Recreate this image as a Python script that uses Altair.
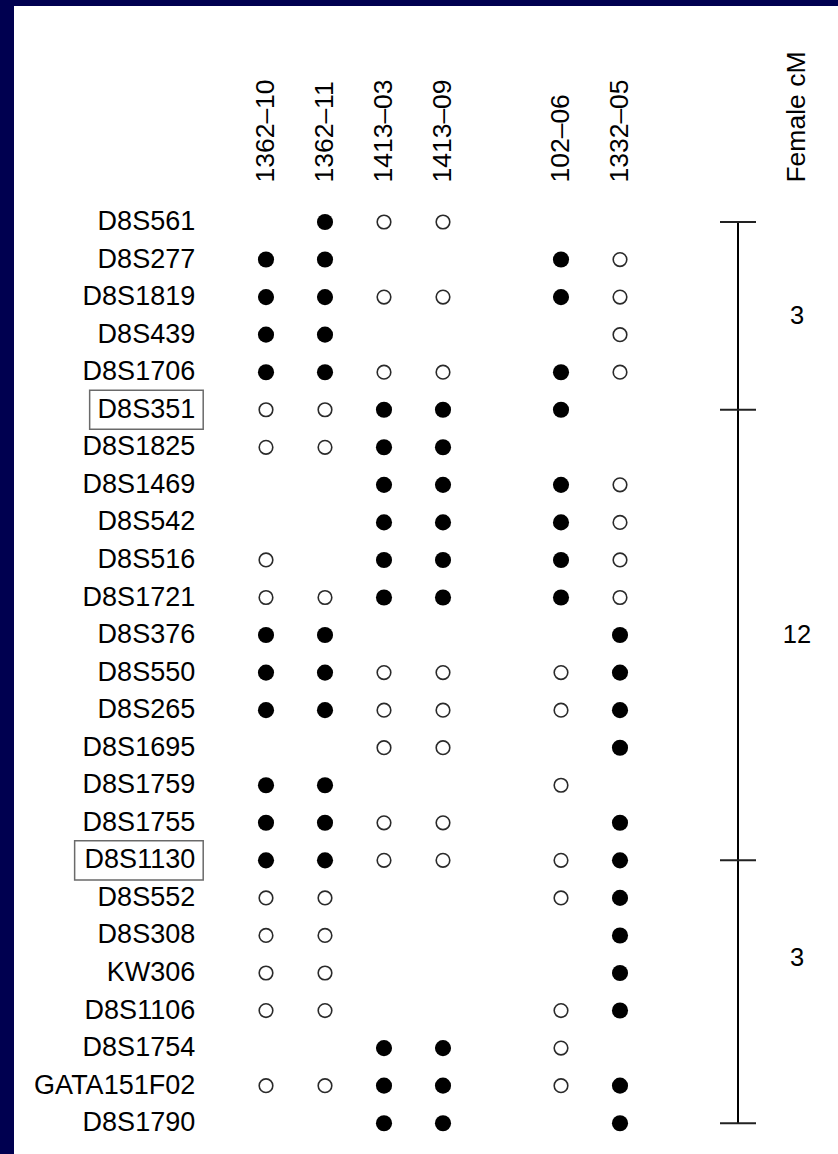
import altair as alt
import pandas as pd

# ---------------- data ----------------
markers = ["D8S561", "D8S277", "D8S1819", "D8S439", "D8S1706", "D8S351",
           "D8S1825", "D8S1469", "D8S542", "D8S516", "D8S1721", "D8S376",
           "D8S550", "D8S265", "D8S1695", "D8S1759", "D8S1755", "D8S1130",
           "D8S552", "D8S308", "KW306", "D8S1106", "D8S1754", "GATA151F02",
           "D8S1790"]
samples = ["1362–10", "1362–11", "1413–03", "1413–09", "102–06", "1332–05"]
# F = filled circle, O = open circle, . = no symbol (one char per sample)
genotypes = [".FOO..", "FF..FO", "FFOOFO", "FF...O", "FFOOFO", "OOFFF.",
             "OOFF..", "..FFFO", "..FFFO", "O.FFFO", "OOFFFO", "FF...F",
             "FFOOOF", "FFOOOF", "..OO.F", "FF..O.", "FFOO.F", "FFOOOF",
             "OO..OF", "OO...F", "OO...F", "OO..OF", "..FFO.", "OOFFOF",
             "..FF.F"]
boxed_markers = ["D8S351", "D8S1130"]
interval_bounds = ["D8S561", "D8S351", "D8S1130", "D8S1790"]
interval_cm = ["3", "12", "3"]
cm_label_rows = [2.5, 11.0, 19.6]
scale_title = "Female cM"

# ---------------- layout (slots/rows) ----------------
FONT = "Liberation Sans"
FS = 27
FS_HEAD = 26.5
FS_CM = 25.5
col_step, row_step = 59.0, 37.55
x0_px, y0_px = 252.0, 216.0      # first column / first row inside the view
W, H = 824, 1148

def sample_slot(i):
    return i if i <= 3 else i + 1

bar_slot = 8
cm_slot = 9
label_slot = -1.2
header_row = -1.05

xs = alt.Scale(domain=[-x0_px / col_step, (W - x0_px) / col_step], nice=False, zero=False)
ys = alt.Scale(domain=[-y0_px / row_step, (H - y0_px) / row_step], nice=False, zero=False, reverse=True)

def X(f):
    return alt.X(f, type="quantitative", scale=xs, axis=None)

def Y(f):
    return alt.Y(f, type="quantitative", scale=ys, axis=None)

# symbol table
rows = []
for r, (m, g) in enumerate(zip(markers, genotypes)):
    for i, s in enumerate(samples):
        if g[i] != ".":
            rows.append({"marker": m, "sample": s, "row": r,
                         "x": sample_slot(i), "state": g[i]})
pts = pd.DataFrame(rows)

labels = pd.DataFrame({"marker": markers, "row": list(range(len(markers))),
                       "x": [label_slot] * len(markers)})

heads = pd.DataFrame({"label": samples + [scale_title],
                      "x": [sample_slot(i) for i in range(len(samples))] + [cm_slot],
                      "row": [header_row] * (len(samples) + 1)})

# approximate Arial advance widths (em) to size the label boxes
cw = {"D": .722, "S": .667, "G": .778, "A": .667, "T": .611, "F": .611,
      "K": .667, "W": .944}
def text_w(t):
    return sum(cw.get(c, .556) for c in t) * FS

right_px = x0_px + label_slot * col_step
pad = 8.0
box_rows = []
for m in boxed_markers:
    r = markers.index(m)
    left = right_px - text_w(m) - pad
    box_rows.append({"x": (left - x0_px) / col_step,
                     "x2": (right_px + pad - x0_px) / col_step,
                     "y": r - 0.52, "y2": r + 0.52})
boxes = pd.DataFrame(box_rows)

bound_rows = [markers.index(m) for m in interval_bounds]
bar = pd.DataFrame({"x": [bar_slot], "y": [bound_rows[0]], "y2": [bound_rows[-1]]})
ticks = pd.DataFrame({"x": [bar_slot] * len(bound_rows), "y": bound_rows})
cm = pd.DataFrame({"x": [cm_slot] * len(interval_cm), "y": cm_label_rows, "t": interval_cm})

# ---------------- layers ----------------
box_layer = alt.Chart(boxes).mark_rect(fillOpacity=0, stroke="#6a6a6a", strokeWidth=1.5).encode(
    x=X("x"), x2="x2", y=Y("y"), y2="y2")

label_layer = alt.Chart(labels).mark_text(
    align="right", baseline="middle", font=FONT, fontSize=FS, color="#000").encode(
    x=X("x"), y=Y("row"), text="marker:N")

head_layer = alt.Chart(heads).mark_text(
    align="left", baseline="middle", angle=270, font=FONT, fontSize=FS_HEAD, color="#000").encode(
    x=X("x"), y=Y("row"), text="label:N")

open_layer = alt.Chart(pts).transform_filter(alt.datum.state == "O").mark_point(
    shape="circle", filled=False, stroke="#2a2a2a", strokeWidth=1.6, size=185, opacity=1).encode(
    x=X("x"), y=Y("row"))

fill_layer = alt.Chart(pts).transform_filter(alt.datum.state == "F").mark_circle(
    color="black", size=260, opacity=1).encode(
    x=X("x"), y=Y("row"))

bar_layer = alt.Chart(bar).mark_rule(color="black", strokeWidth=2).encode(
    x=X("x"), y=Y("y"), y2="y2")

tick_layer = alt.Chart(ticks).mark_tick(
    orient="horizontal", size=36, thickness=2, color="#222", opacity=1).encode(
    x=X("x"), y=Y("y"))

cm_layer = alt.Chart(cm).mark_text(
    align="center", baseline="middle", font=FONT, fontSize=FS_CM, color="#000").encode(
    x=X("x"), y=Y("y"), text="t:N")

chart = alt.layer(box_layer, label_layer, head_layer, open_layer, fill_layer,
                  bar_layer, tick_layer, cm_layer).properties(
    width=W, height=H,
    autosize=alt.AutoSizeParams(type="none"),
    padding={"left": 14, "top": 6, "right": 0, "bottom": 0},
    background="#000050",
).configure_view(fill="white", strokeWidth=0)

chart.save("out.html", embed_options={"renderer": "svg", "actions": False})
